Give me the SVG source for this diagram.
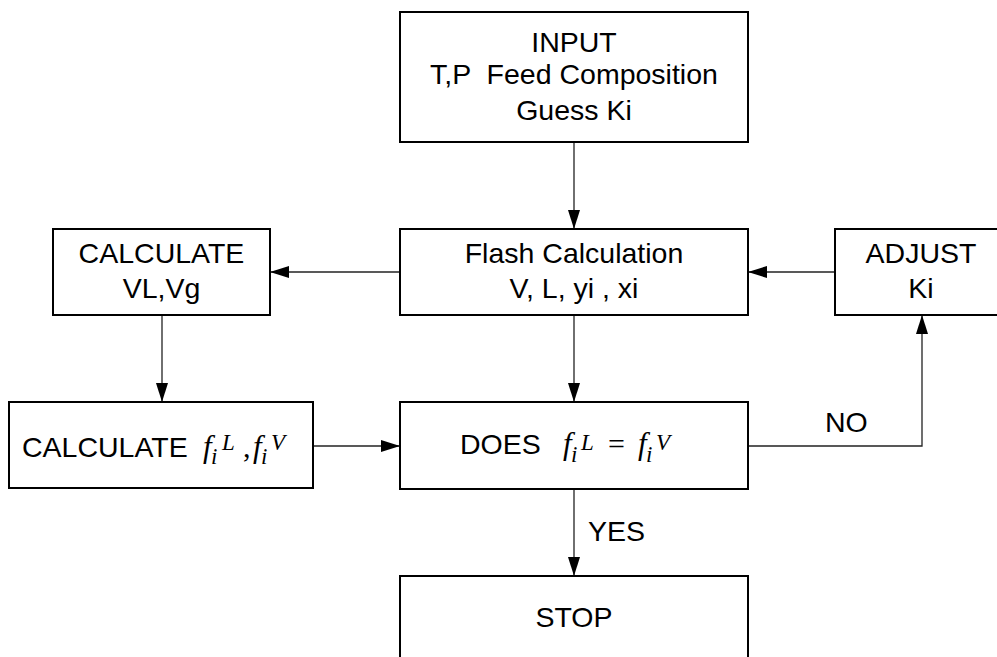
<svg xmlns="http://www.w3.org/2000/svg" width="997" height="657" viewBox="0 0 997 657">
<style>
.box{fill:#fff;stroke:#000;stroke-width:2}
.t{font-family:"Liberation Sans",Arial,sans-serif;font-size:28.5px;fill:#000;text-anchor:middle}
.tl{font-family:"Liberation Sans",Arial,sans-serif;font-size:28.5px;fill:#000}
.m{font-family:"Liberation Serif","Times New Roman",serif;font-style:italic;font-size:31px;fill:#000}
.ms{font-family:"Liberation Serif","Times New Roman",serif;font-style:italic;font-size:23px;fill:#000}
.mr{font-family:"Liberation Serif","Times New Roman",serif;font-size:30px;fill:#000}
.c{fill:none;stroke:#222;stroke-width:1.3}
</style>
<defs>
<marker id="arr" markerUnits="userSpaceOnUse" markerWidth="19" markerHeight="12" refX="19" refY="6" orient="auto">
<path d="M0,0 L19,6 L0,12 z" fill="#000"/>
</marker>
</defs>
<rect width="997" height="657" fill="#fff"/>
<g id="connectors">
<path class="c" d="M574,142 V229" marker-end="url(#arr)"/>
<path class="c" d="M400,272 H270" marker-end="url(#arr)"/>
<path class="c" d="M835,272 H748" marker-end="url(#arr)"/>
<path class="c" d="M162,315 V402" marker-end="url(#arr)"/>
<path class="c" d="M574,315 V402" marker-end="url(#arr)"/>
<path class="c" d="M313,446 H400" marker-end="url(#arr)"/>
<path class="c" d="M748,446 H922 V315" marker-end="url(#arr)"/>
<path class="c" d="M574,489 V576" marker-end="url(#arr)"/>
<text class="tl" x="825" y="432">NO</text>
<text class="tl" x="588" y="541">YES</text>
</g>
<g id="input">
<rect class="box" x="400" y="12" width="348" height="130"/>
<text class="t" x="574" y="52">INPUT</text>
<text class="t" x="574" y="84" xml:space="preserve">T,P  Feed Composition</text>
<text class="t" x="574" y="120">Guess Ki</text>
</g>
<g id="flash">
<rect class="box" x="400" y="229" width="348" height="86"/>
<text class="t" x="574" y="263">Flash Calculation</text>
<text class="t" x="574" y="298">V, L, yi , xi</text>
</g>
<g id="calcvl">
<rect class="box" x="53" y="229" width="217" height="86"/>
<text class="t" x="161.5" y="263">CALCULATE</text>
<text class="t" x="161.5" y="298">VL,Vg</text>
</g>
<g id="adjust">
<rect class="box" x="835" y="229" width="180" height="86"/>
<text class="t" x="921" y="263">ADJUST</text>
<text class="t" x="921" y="298">Ki</text>
</g>
<g id="calcf">
<rect class="box" x="9" y="402" width="304" height="86"/>
<text class="tl" x="22" y="457">CALCULATE</text>
<text class="m" x="203" y="457">f</text>
<text class="ms" x="211" y="464">i</text>
<text class="ms" x="222" y="450">L</text>
<text class="mr" x="243" y="457">,</text>
<text class="m" x="253" y="457">f</text>
<text class="ms" x="261" y="464">i</text>
<text class="ms" x="271" y="450">V</text>
</g>
<g id="does">
<rect class="box" x="400" y="402" width="348" height="87"/>
<text class="tl" x="460" y="454">DOES</text>
<text class="m" x="563" y="454">f</text>
<text class="ms" x="571" y="462">i</text>
<text class="ms" x="581" y="450">L</text>
<text class="mr" x="608" y="454">=</text>
<text class="m" x="638" y="454">f</text>
<text class="ms" x="646" y="462">i</text>
<text class="ms" x="656" y="450">V</text>
</g>
<g id="stop">
<rect class="box" x="400" y="576" width="348" height="100"/>
<text class="t" x="574" y="627">STOP</text>
</g>
</svg>
